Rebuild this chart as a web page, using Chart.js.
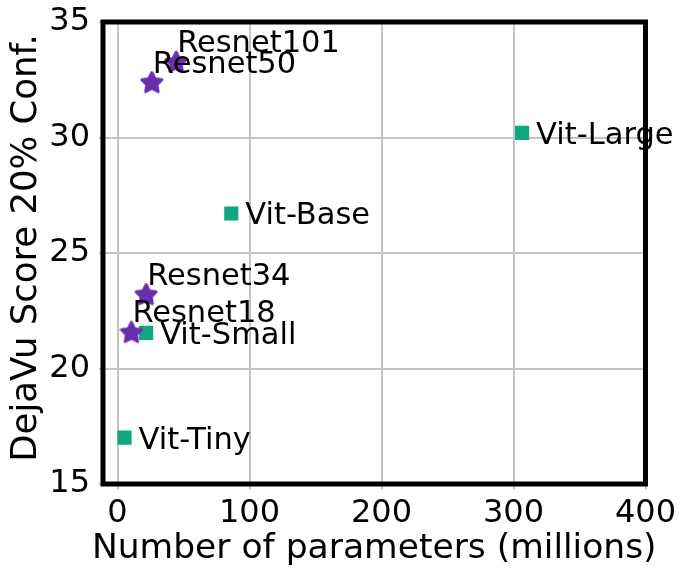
<!DOCTYPE html>
<html>
<head>
<meta charset="utf-8">
<script src="https://cdn.jsdelivr.net/npm/chart.js@4/dist/chart.umd.min.js"></script>
<style>
  html, body { margin: 0; padding: 0; background: #ffffff; }
  #wrap { width: 689px; height: 578px; }
</style>
</head>
<body>
<div id="wrap"><canvas id="chart"></canvas></div>
<script>
// data
const resnetNames = ['Resnet18', 'Resnet34', 'Resnet50', 'Resnet101'];
const resnetParams = [10.5, 21.7, 26, 44.4];
const resnetScores = [21.56, 23.2, 32.38, 33.26];

const vitNames = ['Vit-Tiny', 'Vit-Small', 'Vit-Base', 'Vit-Large'];
const vitParams = [5.3, 21.7, 86.2, 306.5];
const vitScores = [17.01, 21.54, 26.71, 30.2];

const xTicks = [0, 100, 200, 300, 400];
const yTicks = [15, 20, 25, 30, 35];

const xTitle = 'Number of parameters (millions)';
const yTitle = 'DejaVu Score 20% Conf.';

const PURPLE = '#6a2eb0';
const GREEN = '#0fa680';
const FONT = '"DejaVu Sans", sans-serif';

// filled 5 point star, like the matplotlib '*' marker
function makeStar(color, size) {
    const c = document.createElement('canvas');
    c.width = size;
    c.height = size;
    const g = c.getContext('2d');
    const cx = size / 2, cy = size / 2 + 0.5;
    const R = size / 2 - 1.5, r = R * 0.5;
    g.beginPath();
    for (let i = 0; i < 10; i++) {
        const a = -Math.PI / 2 + i * Math.PI / 5;
        const rad = i % 2 ? r : R;
        g.lineTo(cx + rad * Math.cos(a), cy + rad * Math.sin(a));
    }
    g.closePath();
    g.fillStyle = color;
    g.fill();
    g.lineJoin = 'round';
    g.lineWidth = 3;
    g.strokeStyle = color;
    g.stroke();
    return c;
}

function toPoints(xs, ys) {
    return xs.map((x, i) => ({x: x, y: ys[i]}));
}

// text next to each marker
const pointLabels = {
    id: 'pointLabels',
    afterDatasetsDraw(chart) {
        const ctx = chart.ctx;
        ctx.save();
        ctx.font = '30.5px ' + FONT;
        ctx.fillStyle = '#000000';
        ctx.textAlign = 'left';
        ctx.textBaseline = 'alphabetic';
        chart.data.datasets.forEach((ds, di) => {
            const meta = chart.getDatasetMeta(di);
            meta.data.forEach((pt, i) => {
                if (di === 0) {
                    ctx.fillText(ds.names[i], pt.x + 1, pt.y - 10);
                } else {
                    ctx.fillText(ds.names[i], pt.x + 14, pt.y + 11);
                }
            });
        });
        ctx.restore();
    }
};

// thick black frame round the plot area, plus the axis titles
// (the x title is wider than the plot, chart.js would squeeze it)
const frame = {
    id: 'frame',
    afterDraw(chart) {
        const a = chart.chartArea;
        const ctx = chart.ctx;
        ctx.save();
        ctx.strokeStyle = '#000000';
        ctx.lineWidth = 5;
        ctx.lineJoin = 'miter';
        ctx.strokeRect(a.left, a.top, a.right - a.left, a.bottom - a.top);

        ctx.fillStyle = '#000000';
        ctx.textAlign = 'center';
        ctx.textBaseline = 'middle';
        ctx.font = '34.5px ' + FONT;
        ctx.fillText(xTitle, (a.left + a.right) / 2, 549);

        ctx.translate(27, (a.top + a.bottom) / 2 - 5);
        ctx.rotate(-Math.PI / 2);
        ctx.font = '35.5px ' + FONT;
        ctx.fillText(yTitle, 0, 0);
        ctx.restore();
    }
};

const ctx = document.getElementById('chart');
const myChart = new Chart(ctx, {
    type: 'scatter',
    data: {
        datasets: [{
            label: 'Resnet',
            names: resnetNames,
            data: toPoints(resnetParams, resnetScores),
            pointStyle: makeStar(PURPLE, 24),
            backgroundColor: PURPLE,
            borderWidth: 0
        },
            {
                label: 'Vit',
                names: vitNames,
                data: toPoints(vitParams, vitScores),
                pointStyle: 'rect',
                pointRadius: 10,
                backgroundColor: GREEN,
                borderColor: GREEN,
                borderWidth: 0
            }
        ]
    },
    options: {
        responsive: true,
        maintainAspectRatio: false,
        animation: false,
        layout: {
            padding: {top: 22, right: 43.5, left: 0, bottom: 0}
        },
        scales: {
            x: {
                type: 'linear',
                min: -11,
                max: 400,
                afterBuildTicks(scale) {
                    scale.ticks = xTicks.map(v => ({value: v}));
                },
                afterFit(scale) {
                    scale.height = 94;
                    scale.paddingLeft = 0;
                    scale.paddingRight = 0;
                },
                grid: {
                    color: '#c4c4c4',
                    lineWidth: 2,
                    tickLength: 5
                },
                border: {display: false},
                ticks: {
                    color: '#000000',
                    padding: 5,
                    maxRotation: 0,
                    font: {family: FONT, size: 32}
                },
                title: {display: false}
            },
            y: {
                type: 'linear',
                min: 15,
                max: 35,
                afterBuildTicks(scale) {
                    scale.ticks = yTicks.map(v => ({value: v}));
                },
                afterFit(scale) {
                    scale.width = 103;
                    scale.paddingTop = 0;
                    scale.paddingBottom = 0;
                },
                grid: {
                    color: '#c4c4c4',
                    lineWidth: 2,
                    tickLength: 4
                },
                border: {display: false},
                ticks: {
                    color: '#000000',
                    padding: 9,
                    font: {family: FONT, size: 32}
                },
                title: {display: false}
            }
        },
        plugins: {
            legend: {display: false},
            tooltip: {enabled: false}
        }
    },
    plugins: [pointLabels, frame]
});
</script>
</body>
</html>
